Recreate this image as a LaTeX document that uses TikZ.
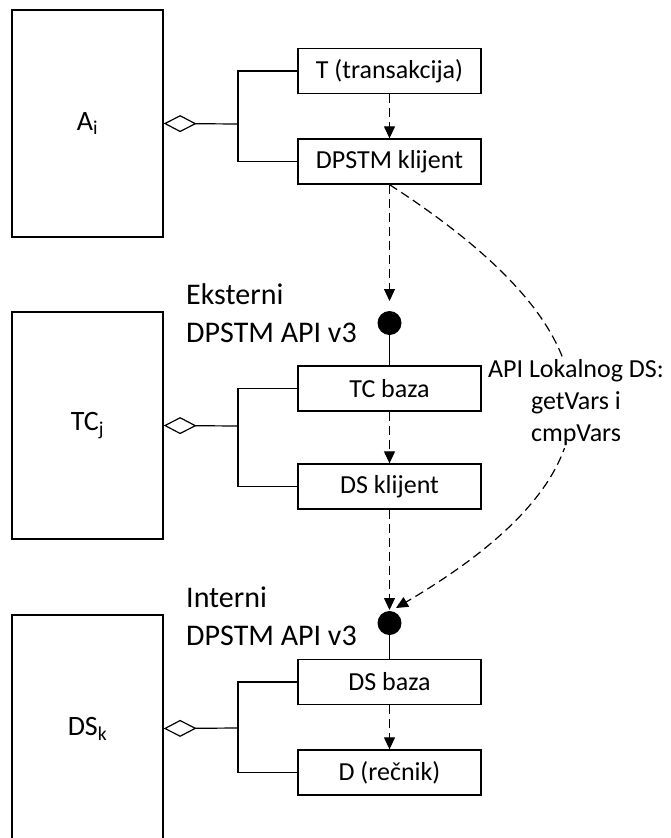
\documentclass[tikz,border=0pt]{standalone}
\usepackage{fontspec}
\setmainfont{Carlito}
\usetikzlibrary{arrows.meta}
\begin{document}
\begin{tikzpicture}[x=1pt,y=-1pt,
  lw/.style={line width=1.3pt},
  bigbox/.style={draw,line width=1.3pt,minimum width=151pt,minimum height=227pt,
    inner sep=0pt,font=\fontsize{28}{34}\selectfont},
  partbox/.style={draw,line width=1.3pt,minimum width=183pt,minimum height=45pt,
    inner sep=0pt,font=\fontsize{26}{32}\selectfont},
  flow/.style={line width=1.2pt,dash pattern=on 9pt off 5pt,
    -{Triangle[length=12pt,width=11pt]}},
  agg/.style={line width=1.2pt,-{Diamond[open,length=33pt,width=17pt]}},
  port/.style={circle,fill=black,minimum size=24pt,inner sep=0pt},
  apilabel/.style={anchor=north west,align=left,inner sep=0pt,
    font=\fontsize{30}{38}\selectfont}
]
\useasboundingbox (0,0) rectangle (670,838);
\clip (0,0) rectangle (670,838);

% components
\node[bigbox] (A)  at (87.5,123.5) {A\textsubscript{i}};
\node[bigbox] (TC) at (87.5,425.5) {TC\textsubscript{j}};
\node[bigbox] (DS) at (87.5,728.5) {DS\textsubscript{k}};

% parts
\node[partbox] (t)   at (389.5,71)    {T (transakcija)};
\node[partbox] (dp)  at (389.5,161.5) {DPSTM klijent};
\node[partbox] (tcb) at (389.5,388.5) {TC baza};
\node[partbox] (dsk) at (389.5,486.5) {DS klijent};
\node[partbox] (dsb) at (389.5,682)   {DS baza};
\node[partbox] (dr)  at (389.5,772.5) {D (rečnik)};

% aggregation brackets
\coordinate (ja) at (238,124);
\coordinate (jt) at (238,426);
\coordinate (jd) at (238,728);
\draw[lw] (t.west) -| (ja) |- (dp.west);
\draw[lw] (tcb.west) -| (jt) |- (dsk.west);
\draw[lw] (dsb.west) -| (jd) |- (dr.west);
\draw[agg] (ja) -- (A.east);
\draw[agg] (jt) -- (TC.east);
\draw[agg] (jd) -- (DS.east);

% interface ports
\node[port] (c1) at (389.5,323) {};
\node[port] (c2) at (389.5,623) {};
\coordinate (c1in) at (389.5,301);
\coordinate (c2in) at (389.5,610);
\coordinate (c2side) at (396,608);

\draw[lw] (c1.south) -- (tcb.north);
\draw[lw] (c2.south) -- (dsb.north);

% call flow
\draw[flow] (t.south) -- (dp.north);
\draw[flow] (dp.south) -- (c1in);
\draw[flow] (tcb.south) -- (dsk.north);
\draw[flow] (dsk.south) -- (c2in);
\draw[flow] (dsb.south) -- (dr.north);
\draw[flow] (dp.south) .. controls (630,340) and (630,470) .. (c2side);

% labels
\node[fill=white,align=center,inner sep=2pt,font=\fontsize{26}{32}\selectfont]
  (api) at (576,403) {API Lokalnog DS:\\getVars i\\cmpVars};
\node[apilabel] (ext) at (186,283) {Eksterni\\DPSTM API v3};
\node[apilabel] (int) at (186,587) {Interni\\DPSTM API v3};
\end{tikzpicture}
\end{document}
